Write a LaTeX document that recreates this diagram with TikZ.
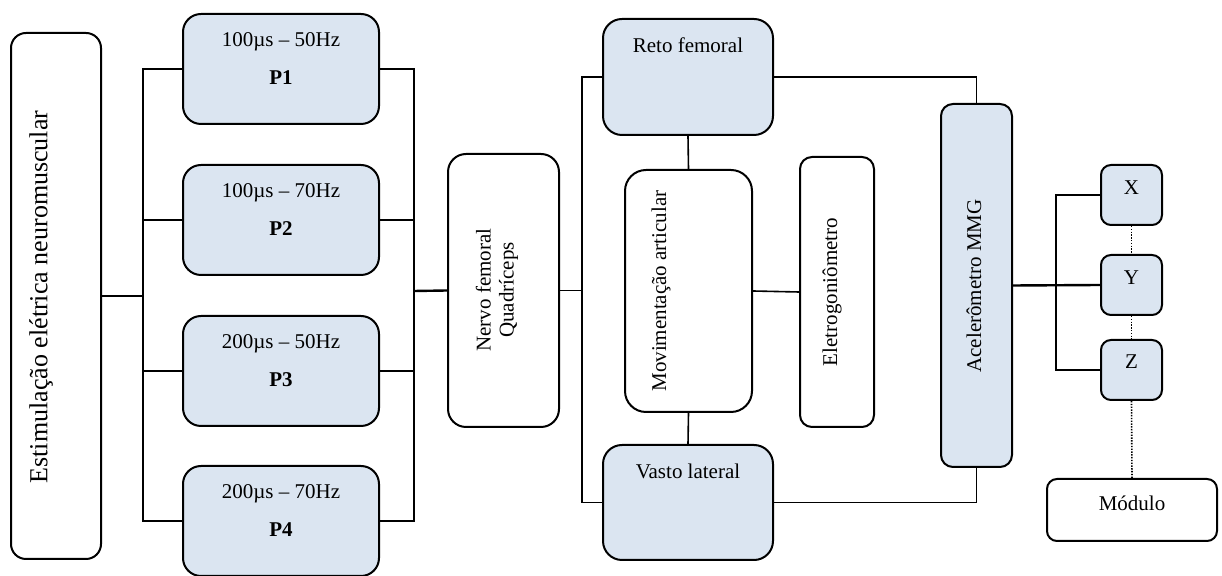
\documentclass[tikz,border=0pt]{standalone}
\usepackage{fontspec}
\setmainfont{Liberation Serif}
\definecolor{boxblue}{HTML}{DBE5F1}
\tikzset{
  blk/.style={draw, line width=1pt, rounded corners=#1, inner sep=0pt},
  bluebox/.style={blk=#1, fill=boxblue},
  lbl/.style={font=\fontsize{10.5}{11.5}\selectfont, inner sep=0pt},
  wire/.style={line width=0.8pt},
  wireb/.style={line width=1.2pt},
  dotwire/.style={line width=0.8pt, dash pattern=on 0.7pt off 0.7pt}
}
\begin{document}
\begin{tikzpicture}[x=0.5pt, y=-0.5pt]
  \useasboundingbox (0,0) rectangle (1222,576);
  % Boxes
  \node[blk=7.5pt, minimum width=45pt, minimum height=263pt] (stim) at (56,296) {};
  \foreach \i/\y in {1/69, 2/220, 3/371, 4/521}
    \node[bluebox=9pt, minimum width=98pt, minimum height=55pt] (p\i) at (281,\y) {};
  \node[blk=9pt, minimum width=55.5pt, minimum height=136.5pt] (nervo) at (503.5,290.5) {};
  \node[bluebox=9.5pt, minimum width=85pt, minimum height=58pt] (reto) at (688,77) {};
  \node[bluebox=9.5pt, minimum width=85pt, minimum height=57.5pt] (vasto) at (688,502.5) {};
  \node[blk=10.5pt, minimum width=63.5pt, minimum height=121pt] (mov) at (688.5,291) {};
  \node[blk=6pt, minimum width=37pt, minimum height=135pt] (eletro) at (837,292) {};
  \node[bluebox=6pt, minimum width=35.5pt, minimum height=181.5pt] (acc) at (976.5,285.5) {};
  \node[bluebox=5pt, minimum width=30.5pt, minimum height=30pt] (ex) at (1131.5,195) {};
  \node[bluebox=5pt, minimum width=30.5pt, minimum height=30pt] (ey) at (1131.5,285) {};
  \node[bluebox=5pt, minimum width=30.5pt, minimum height=30pt] (ez) at (1131.5,370) {};
  \node[blk=5pt, minimum width=85pt, minimum height=31pt] (mod) at (1132,510) {};
  % Texts
  \node[lbl, font=\fontsize{13}{15}\selectfont, rotate=90] (stimt) at (41,297) {Estimulação elétrica neuromuscular};
  \foreach \i/\y/\t in {1/69/100µs – 50Hz, 2/220/100µs – 70Hz, 3/371/200µs – 50Hz, 4/521/200µs – 70Hz} {
    \node[lbl, anchor=base] (p\i a) at (281,{\y-22}) {\t};
    \node[lbl, anchor=base, font=\fontsize{10.5}{11.5}\selectfont\bfseries] (p\i b) at (281,{\y+16}) {P\i};
  }
  \node[lbl, rotate=90, align=center] (nervot) at (497,290) {Nervo femoral\\Quadríceps};
  \node[lbl, anchor=base] (retot) at (688,53) {Reto femoral};
  \node[lbl, anchor=base] (vastot) at (688,479) {Vasto lateral};
  \node[lbl, rotate=90] (movt) at (661,291) {Movimentação articular};
  \node[lbl, rotate=90] (eletrot) at (832,292) {Eletrogoniômetro};
  \node[lbl, rotate=90] (acct) at (974,286) {Acelerômetro MMG};
  \node[lbl, anchor=base] (ext) at (1131.5,195) {X};
  \node[lbl, anchor=base] (eyt) at (1131.5,285) {Y};
  \node[lbl, anchor=base] (ezt) at (1131.5,369) {Z};
  \node[lbl, anchor=base] (modt) at (1132,511) {Módulo};
  % Connectors
  \coordinate (busL) at (143,296);
  \coordinate (busR) at (414,291);
  \coordinate (busM) at (582,290.5);
  \coordinate (busA) at (1056,285);
  \draw[wireb] (stim.east) -- (busL);
  \foreach \i in {1,...,4} {
    \draw[wire] (p\i.west) -| (busL);
    \draw[wire] (p\i.east) -| (busR);
  }
  \draw[wireb] (busR) -- (nervo.west);
  \draw[wire] (nervo.east) -- (busM);
  \draw[wire] (reto.west) -| (busM);
  \draw[wire] (vasto.west) -| (busM);
  \draw[wire] (reto.south) -- (mov.north);
  \draw[wire] (mov.south) -- (vasto.north);
  \draw[wire] (mov.east) -- (eletro.west);
  \draw[wire] (reto.east) -| (acc.north);
  \draw[wire] (vasto.east) -| (acc.south);
  \draw[wireb] (acc.east) -- (ey.west);
  \draw[wire] (ex.west) -| (busA);
  \draw[wire] (ez.west) -| (busA);
  \draw[dotwire] (ex.south) -- (ey.north);
  \draw[dotwire] (ey.south) -- (ez.north);
  \draw[dotwire] (ez.south) -- (mod.north);
\end{tikzpicture}
\end{document}
